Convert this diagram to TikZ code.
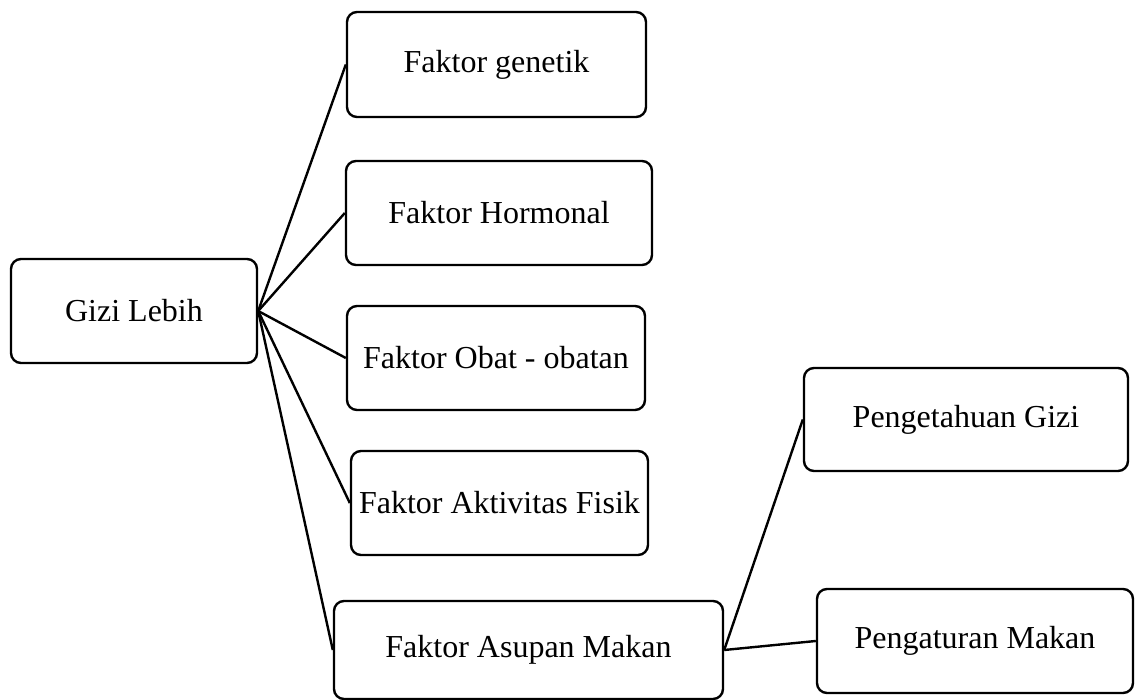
\documentclass[tikz,border=0pt]{standalone}
\usepackage{fontspec}
\setmainfont{Liberation Serif}
\begin{document}
\begin{tikzpicture}[x=1pt, y=-1pt, line width=2.4pt,
  every node/.style={font=\fontsize{32}{36}\selectfont},
  box/.style={draw, rounded corners=10pt, inner sep=0pt, minimum height=104pt}]
  \useasboundingbox (0,0) rectangle (1135,700);
  \node[box, minimum width=246pt] (gizi) at (134,311) {Gizi Lebih};
  \node[box, minimum width=299pt, minimum height=105pt] (genetik) at (496.5,64.5) {Faktor genetik};
  \node[box, minimum width=306pt] (hormonal) at (499,213) {Faktor Hormonal};
  \node[box, minimum width=298pt] (obat) at (496,358) {Faktor Obat - obatan};
  \node[box, minimum width=297pt] (fisik) at (499.5,503) {Faktor Aktivitas Fisik};
  \node[box, minimum width=389pt, minimum height=98pt] (asupan) at (528.5,650) {Faktor Asupan Makan};
  \node[box, minimum width=324pt, minimum height=103pt] (pengetahuan) at (966,419.5) {Pengetahuan Gizi};
  \node[box, minimum width=316pt] (pengaturan) at (975,641) {Pengaturan Makan};
  \draw (gizi.east) -- (genetik.west);
  \draw (gizi.east) -- (hormonal.west);
  \draw (gizi.east) -- (obat.west);
  \draw (gizi.east) -- (fisik.west);
  \draw (gizi.east) -- (asupan.west);
  \draw (asupan.east) -- (pengetahuan.west);
  \draw (asupan.east) -- (pengaturan.west);
\end{tikzpicture}
\end{document}
